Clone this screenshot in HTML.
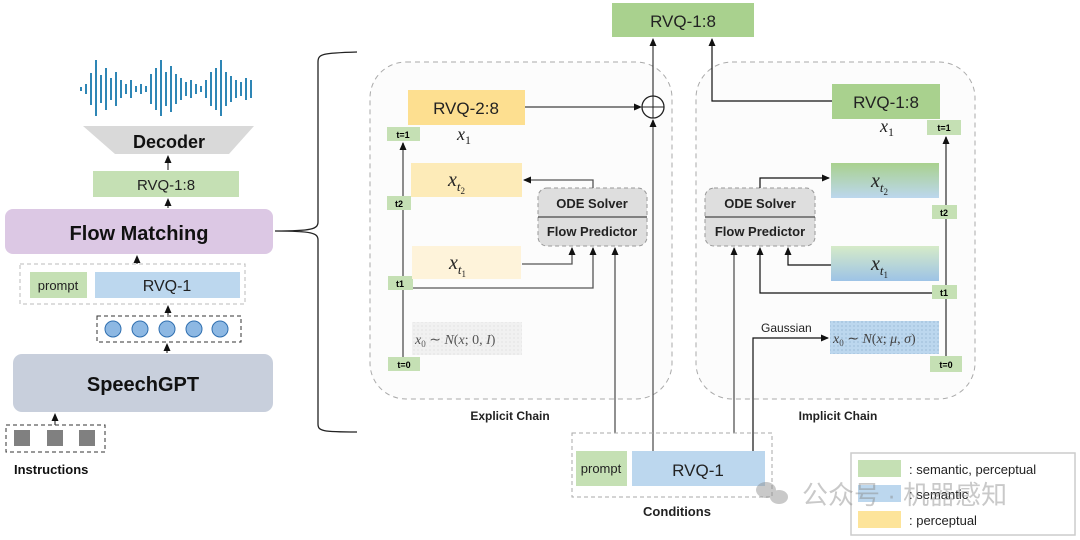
<!DOCTYPE html>
<html><head><meta charset="utf-8"><style>
html,body{margin:0;padding:0;background:#fff;}
svg{display:block;font-family:"Liberation Sans",Arial,sans-serif;}
.m{font-family:"Liberation Serif",serif;font-style:italic;}
</style></head><body>
<svg width="1080" height="540" viewBox="0 0 1080 540" xmlns="http://www.w3.org/2000/svg">
<defs>
<marker id="a" markerWidth="8" markerHeight="8" refX="7" refY="4" orient="auto" markerUnits="userSpaceOnUse"><path d="M0,0.5 L8,4 L0,7.5 z" fill="#111"/></marker>
<linearGradient id="g1" x1="0" y1="0" x2="0" y2="1"><stop offset="0" stop-color="#a9d18e"/><stop offset="1" stop-color="#bcd7ee"/></linearGradient>
<linearGradient id="g2" x1="0" y1="0" x2="0" y2="1"><stop offset="0" stop-color="#d6ebc8"/><stop offset="1" stop-color="#9dc3e6"/></linearGradient>
<pattern id="dots" width="4" height="4" patternUnits="userSpaceOnUse"><rect width="4" height="4" fill="#f1f1f1"/><circle cx="2" cy="2" r="0.5" fill="#ccc"/></pattern>
<pattern id="dotsb" width="4" height="4" patternUnits="userSpaceOnUse"><rect width="4" height="4" fill="#bcd7ee"/><circle cx="2" cy="2" r="0.5" fill="#6c8fb5"/></pattern>
</defs>

<!-- waveform -->
<g stroke="#2e86b5" stroke-width="2">
<line x1="81" y1="87" x2="81" y2="91"/><line x1="86" y1="84" x2="86" y2="94"/><line x1="91" y1="73" x2="91" y2="105"/><line x1="96" y1="60" x2="96" y2="116"/><line x1="101" y1="75" x2="101" y2="103"/><line x1="106" y1="68" x2="106" y2="110"/><line x1="111" y1="78" x2="111" y2="100"/><line x1="116" y1="72" x2="116" y2="106"/><line x1="121" y1="80" x2="121" y2="98"/><line x1="126" y1="84" x2="126" y2="94"/><line x1="131" y1="80" x2="131" y2="98"/><line x1="136" y1="86" x2="136" y2="92"/><line x1="141" y1="84" x2="141" y2="94"/><line x1="146" y1="86" x2="146" y2="92"/><line x1="151" y1="74" x2="151" y2="104"/><line x1="156" y1="68" x2="156" y2="110"/><line x1="161" y1="60" x2="161" y2="116"/><line x1="166" y1="72" x2="166" y2="106"/><line x1="171" y1="66" x2="171" y2="112"/><line x1="176" y1="74" x2="176" y2="104"/><line x1="181" y1="78" x2="181" y2="100"/><line x1="186" y1="82" x2="186" y2="96"/><line x1="191" y1="80" x2="191" y2="98"/><line x1="196" y1="84" x2="196" y2="94"/><line x1="201" y1="86" x2="201" y2="92"/><line x1="206" y1="80" x2="206" y2="98"/><line x1="211" y1="72" x2="211" y2="106"/><line x1="216" y1="68" x2="216" y2="110"/><line x1="221" y1="60" x2="221" y2="116"/><line x1="226" y1="72" x2="226" y2="106"/><line x1="231" y1="76" x2="231" y2="102"/><line x1="236" y1="80" x2="236" y2="98"/><line x1="241" y1="82" x2="241" y2="96"/><line x1="246" y1="78" x2="246" y2="100"/><line x1="251" y1="80" x2="251" y2="98"/>
</g>
<!-- decoder -->
<polygon points="83,126 254,126 229,154 115,154" fill="#d9d9d9"/>
<text x="169" y="148" font-size="18" font-weight="bold" text-anchor="middle" fill="#111">Decoder</text>
<line x1="168" y1="170" x2="168" y2="156" stroke="#111" marker-end="url(#a)"/>
<rect x="93" y="171" width="146" height="26" fill="#c5e0b4"/>
<text x="166" y="190" font-size="15" text-anchor="middle" fill="#222">RVQ-1:8</text>
<line x1="168" y1="208" x2="168" y2="199" stroke="#111" marker-end="url(#a)"/>
<rect x="5" y="209" width="268" height="45" rx="8" fill="#dcc8e4"/>
<text x="139" y="240" font-size="20" font-weight="bold" text-anchor="middle" fill="#111">Flow Matching</text>
<line x1="137" y1="264" x2="137" y2="256" stroke="#111" marker-end="url(#a)"/>
<rect x="20" y="264" width="225" height="40" fill="none" stroke="#bbb" stroke-dasharray="4,3"/>
<rect x="30" y="272" width="57" height="26" fill="#c5e0b4"/>
<text x="58" y="290" font-size="13" text-anchor="middle" fill="#222">prompt</text>
<rect x="95" y="272" width="145" height="26" fill="#bcd7ee"/>
<text x="167" y="291" font-size="16" text-anchor="middle" fill="#222">RVQ-1</text>
<line x1="168" y1="315" x2="168" y2="306" stroke="#111" marker-end="url(#a)"/>
<rect x="97" y="316" width="144" height="26" fill="none" stroke="#333" stroke-dasharray="4,3"/>
<g fill="#8db8e3" stroke="#2f6fb0" stroke-width="1"><circle cx="113" cy="329" r="8"/><circle cx="140" cy="329" r="8"/><circle cx="167" cy="329" r="8"/><circle cx="194" cy="329" r="8"/><circle cx="220" cy="329" r="8"/></g>
<line x1="167" y1="353" x2="167" y2="344" stroke="#111" marker-end="url(#a)"/>
<rect x="13" y="354" width="260" height="58" rx="9" fill="#c8cfdc"/>
<text x="143" y="391" font-size="20" font-weight="bold" text-anchor="middle" fill="#111">SpeechGPT</text>
<line x1="55" y1="425" x2="55" y2="414" stroke="#111" marker-end="url(#a)"/>
<rect x="6" y="425" width="99" height="27" fill="none" stroke="#333" stroke-dasharray="4,3"/>
<g fill="#808080"><rect x="14" y="430" width="16" height="16"/><rect x="47" y="430" width="16" height="16"/><rect x="79" y="430" width="16" height="16"/></g>
<text x="14" y="474" font-size="13" font-weight="bold" fill="#111">Instructions</text>

<!-- brace -->
<path d="M357,52 C322,53 318,54 318,62 L318,222 C318,229 312,231 275,231 C312,231 318,233 318,240 L318,424 C318,431 322,432 357,432" fill="none" stroke="#222" stroke-width="1.3"/>

<!-- chain boxes -->
<rect x="370" y="62" width="302" height="337" rx="36" fill="#fcfcfc" stroke="#aaa" stroke-dasharray="5,4"/>
<rect x="696" y="62" width="279" height="337" rx="36" fill="#fcfcfc" stroke="#aaa" stroke-dasharray="5,4"/>

<!-- top RVQ -->
<rect x="612" y="3" width="142" height="34" fill="#a9d18e"/>
<text x="683" y="27" font-size="17" text-anchor="middle" fill="#222">RVQ-1:8</text>

<!-- explicit -->
<rect x="408" y="90" width="117" height="35" fill="#fddf90"/>
<text x="466" y="114" font-size="17" text-anchor="middle" fill="#222">RVQ-2:8</text>
<text x="457" y="140" class="m" font-size="18" fill="#222">x<tspan font-size="12" dy="4" font-style="normal">1</tspan></text>
<line x1="525" y1="107" x2="641" y2="107" stroke="#111" marker-end="url(#a)"/>
<circle cx="653" cy="107" r="11" fill="#fff" stroke="#222" stroke-width="1.3"/>
<line x1="642" y1="107" x2="664" y2="107" stroke="#222"/><line x1="653" y1="96" x2="653" y2="118" stroke="#222"/>
<line x1="653" y1="96" x2="653" y2="39" stroke="#111" marker-end="url(#a)"/>
<line x1="653" y1="451" x2="653" y2="120" stroke="#555" stroke-width="1.3" marker-end="url(#a)"/>
<line x1="403" y1="358" x2="403" y2="143" stroke="#666" stroke-width="1.5" marker-end="url(#a)"/>
<rect x="387" y="127" width="33" height="14" fill="#c5e0b4"/><text x="403" y="138" font-size="9" font-weight="bold" text-anchor="middle">t=1</text>
<rect x="387" y="196" width="24" height="14" fill="#c5e0b4"/><text x="399" y="207" font-size="9" font-weight="bold" text-anchor="middle">t2</text>
<rect x="388" y="276" width="25" height="14" fill="#c5e0b4"/><text x="400" y="287" font-size="9" font-weight="bold" text-anchor="middle">t1</text>
<rect x="388" y="357" width="32" height="14" fill="#c5e0b4"/><text x="404" y="368" font-size="9" font-weight="bold" text-anchor="middle">t=0</text>
<rect x="411" y="163" width="111" height="34" fill="#fdebb8"/>
<text x="448" y="186" class="m" font-size="20" fill="#222">x<tspan font-size="13" dy="5">t</tspan><tspan font-size="9" dy="3" font-style="normal">2</tspan></text>
<rect x="412" y="246" width="109" height="33" fill="#fef3da"/>
<text x="449" y="269" class="m" font-size="20" fill="#222">x<tspan font-size="13" dy="5">t</tspan><tspan font-size="9" dy="3" font-style="normal">1</tspan></text>
<rect x="412" y="322" width="110" height="33" fill="url(#dots)"/>
<text x="415" y="344" class="m" font-size="14" fill="#555">x<tspan font-size="9" dy="3" font-style="normal">0</tspan><tspan dy="-3" font-style="normal"> ∼ </tspan>N<tspan font-style="normal">(</tspan>x<tspan font-style="normal">; 0, </tspan>I<tspan font-style="normal">)</tspan></text>
<rect x="538" y="188" width="109" height="58" rx="9" fill="#dedede" stroke="#999" stroke-dasharray="4,3"/>
<line x1="538" y1="217" x2="647" y2="217" stroke="#222"/>
<text x="592" y="208" font-size="13" font-weight="bold" text-anchor="middle" fill="#222">ODE Solver</text>
<text x="592" y="236" font-size="13" font-weight="bold" text-anchor="middle" fill="#222">Flow Predictor</text>
<polyline points="593,188 593,180 524,180" fill="none" stroke="#555" stroke-width="1.3" marker-end="url(#a)"/>
<polyline points="522,264 572,264 572,248" fill="none" stroke="#555" stroke-width="1.3" marker-end="url(#a)"/>
<polyline points="413,288 593,288 593,248" fill="none" stroke="#555" stroke-width="1.3" marker-end="url(#a)"/>
<line x1="615" y1="433" x2="615" y2="248" stroke="#555" stroke-width="1.3" marker-end="url(#a)"/>
<text x="510" y="420" font-size="12" font-weight="bold" text-anchor="middle" fill="#222">Explicit Chain</text>

<!-- implicit -->
<rect x="832" y="84" width="108" height="35" fill="#a9d18e"/>
<text x="886" y="108" font-size="17" text-anchor="middle" fill="#222">RVQ-1:8</text>
<text x="880" y="132" class="m" font-size="18" fill="#222">x<tspan font-size="12" dy="4" font-style="normal">1</tspan></text>
<polyline points="832,101 712,101 712,39" fill="none" stroke="#111" stroke-width="1.2" marker-end="url(#a)"/>
<line x1="946" y1="357" x2="946" y2="137" stroke="#555" stroke-width="1.5" marker-end="url(#a)"/>
<rect x="927" y="120" width="34" height="15" fill="#c5e0b4"/><text x="944" y="131" font-size="9" font-weight="bold" text-anchor="middle">t=1</text>
<rect x="932" y="205" width="25" height="14" fill="#c5e0b4"/><text x="944" y="216" font-size="9" font-weight="bold" text-anchor="middle">t2</text>
<rect x="932" y="285" width="25" height="14" fill="#c5e0b4"/><text x="944" y="296" font-size="9" font-weight="bold" text-anchor="middle">t1</text>
<rect x="930" y="356" width="32" height="16" fill="#c5e0b4"/><text x="946" y="368" font-size="9" font-weight="bold" text-anchor="middle">t=0</text>
<rect x="831" y="163" width="108" height="35" fill="url(#g1)"/>
<text x="871" y="187" class="m" font-size="20" fill="#222">x<tspan font-size="13" dy="5">t</tspan><tspan font-size="9" dy="3" font-style="normal">2</tspan></text>
<rect x="831" y="246" width="108" height="35" fill="url(#g2)"/>
<text x="871" y="270" class="m" font-size="20" fill="#222">x<tspan font-size="13" dy="5">t</tspan><tspan font-size="9" dy="3" font-style="normal">1</tspan></text>
<rect x="830" y="321" width="109" height="33" fill="url(#dotsb)"/>
<text x="833" y="343" class="m" font-size="14" fill="#444">x<tspan font-size="9" dy="3" font-style="normal">0</tspan><tspan dy="-3" font-style="normal"> ∼ </tspan>N<tspan font-style="normal">(</tspan>x<tspan font-style="normal">; </tspan>μ<tspan font-style="normal">, </tspan>σ<tspan font-style="normal">)</tspan></text>
<rect x="705" y="188" width="110" height="58" rx="9" fill="#dedede" stroke="#999" stroke-dasharray="4,3"/>
<line x1="705" y1="217" x2="815" y2="217" stroke="#222"/>
<text x="760" y="208" font-size="13" font-weight="bold" text-anchor="middle" fill="#222">ODE Solver</text>
<text x="760" y="236" font-size="13" font-weight="bold" text-anchor="middle" fill="#222">Flow Predictor</text>
<polyline points="760,188 760,178 829,178" fill="none" stroke="#111" stroke-width="1.2" marker-end="url(#a)"/>
<polyline points="831,265 788,265 788,248" fill="none" stroke="#111" stroke-width="1.2" marker-end="url(#a)"/>
<polyline points="932,293 760,293 760,248" fill="none" stroke="#111" stroke-width="1.2" marker-end="url(#a)"/>
<line x1="734" y1="433" x2="734" y2="248" stroke="#555" stroke-width="1.3" marker-end="url(#a)"/>
<polyline points="753,451 753,338 828,338" fill="none" stroke="#111" stroke-width="1.2" marker-end="url(#a)"/>
<text x="761" y="332" font-size="12" fill="#222">Gaussian</text>
<text x="838" y="420" font-size="12" font-weight="bold" text-anchor="middle" fill="#222">Implicit Chain</text>

<!-- conditions -->
<rect x="572" y="433" width="200" height="64" fill="none" stroke="#aaa" stroke-dasharray="4,3"/>
<rect x="576" y="451" width="51" height="35" fill="#c5e0b4"/>
<text x="601" y="473" font-size="13" text-anchor="middle" fill="#222">prompt</text>
<rect x="632" y="451" width="133" height="35" fill="#bcd7ee"/>
<text x="698" y="476" font-size="17" text-anchor="middle" fill="#222">RVQ-1</text>
<text x="677" y="516" font-size="13" font-weight="bold" text-anchor="middle" fill="#222">Conditions</text>

<!-- legend -->
<rect x="851" y="453" width="224" height="82" fill="#fff" stroke="#ccc" stroke-width="1.5"/>
<rect x="858" y="460" width="43" height="17" fill="#c5e0b4"/>
<rect x="858" y="485" width="43" height="17" fill="#bcd7ee"/>
<rect x="858" y="511" width="43" height="17" fill="#fde49a"/>
<text x="909" y="474" font-size="13" fill="#222">: semantic, perceptual</text>
<text x="909" y="499" font-size="13" fill="#222">: semantic</text>
<text x="909" y="525" font-size="13" fill="#222">: perceptual</text>

<!-- watermark -->
<g opacity="0.45" fill="#888">
<ellipse cx="766" cy="490" rx="10" ry="8"/><ellipse cx="779" cy="497" rx="9" ry="7"/>
<text x="802" y="504" font-size="26" font-family="'Liberation Sans','Noto Sans CJK SC',sans-serif">公众号 · 机器感知</text>
</g>
</svg>
</body></html>
